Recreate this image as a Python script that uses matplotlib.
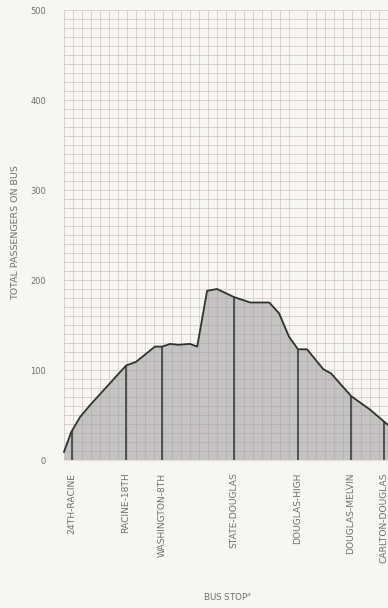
## bus load profile on graph paper
import matplotlib.pyplot as plt
import numpy as np

plt.rcParams.update({'font.size': 6, 'font.family': ['DejaVu Sans']})

# distance along route (grid squares) and passengers on bus
dist = [0, 0.8, 1.8, 2.9, 6.9, 8.0, 10.1, 10.9, 11.8, 12.7, 14.0, 14.8,
        15.9, 17.0, 18.9, 20.7, 22.8, 23.9, 25.0, 26.0, 27.0, 28.8, 29.7,
        31.9, 34.0, 36.0]
passengers = [9, 31, 48, 61, 105, 109, 126, 126, 129, 128, 129, 126,
              188, 190, 181, 175, 175, 163, 137, 123, 123, 101, 96,
              71, 56, 39]

stops = ['24TH-RACINE', 'RACINE-18TH', 'WASHINGTON-8TH', 'STATE-DOUGLAS',
         'DOUGLAS-HIGH', 'DOUGLAS-MELVIN', 'CARLTON-DOUGLAS']
stop_pos = [0.9, 6.9, 10.9, 18.9, 26.0, 31.9, 35.6]

bg = '#f7f6f3'
fig = plt.figure(figsize=(3.88, 6.08), dpi=100, facecolor=bg)
ax = fig.add_axes([64/388, 148/608, 324/388, 450/608])
ax.set_facecolor(bg)

ax.set_xlim(0, 36)
ax.set_ylim(0, 500)
ax.set_axisbelow(True)

ax.set_xticks(np.arange(0, 37, 1), minor=True)
ax.set_yticks(np.arange(0, 501, 10), minor=True)
ax.set_yticks(np.arange(0, 501, 100))
ax.set_xticks(stop_pos)
ax.set_xticklabels(stops, rotation=90, va='top', ha='center', fontsize=6.6)
ax.grid(axis='x', which='minor', color='#d6cacc', lw=0.6)
ax.grid(axis='y', which='both', color='#d6cacc', lw=0.6)
ax.tick_params(which='both', length=0, colors='#707070')
ax.tick_params(axis='x', pad=9)
ax.tick_params(axis='y', pad=13)
for s in ax.spines.values():
    s.set_visible(False)

ax.fill_between(dist, passengers, 0, color='#9a9a98', alpha=0.55, lw=0)
ax.plot(dist, passengers, color='#2e332f', lw=1.3, clip_on=False)
stop_vals = np.interp(stop_pos, dist, passengers)
ax.vlines(stop_pos, 0, stop_vals, color='#2e332f', lw=1.1)

ax.set_ylabel('TOTAL PASSENGERS ON BUS', color='#707070', fontsize=6.8)
ax.yaxis.set_label_coords(-44/324, 0.505)
fig.text(228/388, 1 - 597/608, 'BUS STOP$^{a}$', color='#707070', fontsize=6.3,
         ha='center', va='center')

plt.savefig('out.png', dpi=100, facecolor=bg)
